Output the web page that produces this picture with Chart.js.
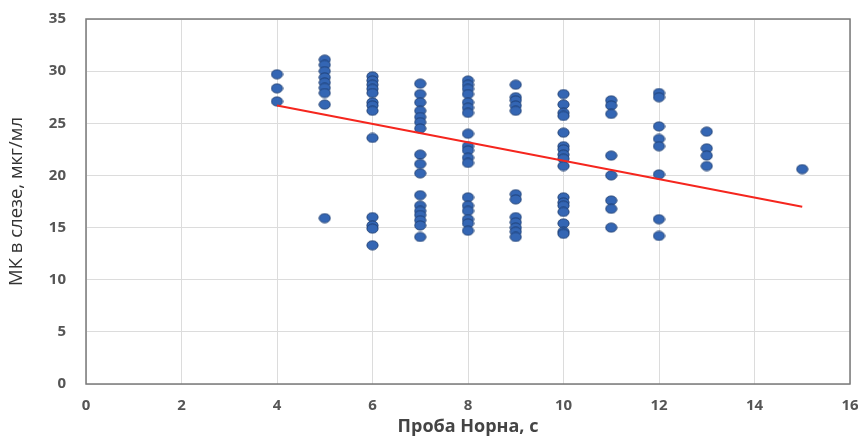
<!DOCTYPE html>
<html>
<head>
<meta charset="utf-8">
<script src="https://cdn.jsdelivr.net/npm/chart.js@4/dist/chart.umd.min.js"></script>
<style>
  html, body { margin: 0; padding: 0; background: #fff; }
  #wrap { width: 858px; height: 438px; }
</style>
</head>
<body>
<div id="wrap"><canvas id="c" width="858" height="438"></canvas></div>
<script>
// Проба Норна (с) -> МК в слезе (мкг/мл)
const hornX = [
  4, 4, 4,
  5, 5, 5, 5, 5, 5, 5, 5, 5,
  6, 6, 6, 6, 6, 6, 6, 6, 6, 6, 6, 6, 6,
  7, 7, 7, 7, 7, 7, 7, 7, 7, 7, 7, 7, 7, 7, 7, 7, 7,
  8, 8, 8, 8, 8, 8, 8, 8, 8, 8, 8, 8, 8, 8, 8, 8, 8, 8,
  9, 9, 9, 9, 9, 9, 9, 9, 9, 9, 9, 9,
  10, 10, 10, 10, 10, 10, 10, 10, 10, 10, 10, 10, 10, 10, 10, 10, 10,
  11, 11, 11, 11, 11, 11, 11, 11,
  12, 12, 12, 12, 12, 12, 12, 12,
  13, 13, 13, 13,
  15
];
const mkY = [
  29.7, 28.35, 27.1,
  31.1, 30.6, 30.0, 29.4, 28.9, 28.4, 27.9, 26.8, 15.9,
  29.5, 29.1, 28.7, 28.3, 27.9, 27.0, 26.7, 26.2, 23.6, 16.0, 15.2, 14.9, 13.3,
  28.8, 27.8, 27.0, 26.2, 25.6, 25.1, 24.5, 22.0, 21.1, 20.2, 18.1, 17.1, 16.6, 16.2, 15.7, 15.2, 14.1,
  29.1, 28.7, 28.3, 27.8, 27.0, 26.5, 26.0, 24.0, 22.8, 22.4, 21.7, 21.2, 17.9, 17.1, 16.6, 15.8, 15.4, 14.7,
  28.7, 27.5, 27.2, 26.7, 26.2, 18.2, 17.7, 16.0, 15.5, 15.0, 14.6, 14.1,
  27.8, 26.8, 26.0, 25.7, 24.1, 22.8, 22.5, 22.0, 21.6, 20.9, 17.9, 17.4, 17.1, 16.5, 15.4, 14.6, 14.4,
  27.2, 26.7, 25.9, 21.9, 20.0, 17.6, 16.8, 15.0,
  27.9, 27.5, 24.7, 23.5, 22.8, 20.1, 15.8, 14.2,
  24.2, 22.6, 21.9, 20.9,
  20.6
];
// linear trend line end points
const trendX = [4, 15];
const trendY = [26.7, 17.0];

const xTicks = [0, 2, 4, 6, 8, 10, 12, 14, 16];
const yTicks = [0, 5, 10, 15, 20, 25, 30, 35];

// ellipse marker like the spreadsheet one
const marker = document.createElement('canvas');
marker.width = 13; marker.height = 11;
(function () {
  const g = marker.getContext('2d');
  g.beginPath();
  g.ellipse(6.5, 5.5, 5.6, 4.6, 0, 0, Math.PI * 2);
  g.fillStyle = '#3466b4';
  g.fill();
  g.lineWidth = 0.9;
  g.strokeStyle = '#1d3c6e';
  g.stroke();
})();

const frame = {
  id: 'frame',
  afterDraw(chart) {
    const a = chart.chartArea, ctx = chart.ctx;
    ctx.save();
    ctx.strokeStyle = '#7a7a7a';
    ctx.lineWidth = 1.5;
    ctx.strokeRect(a.left, a.top, a.right - a.left, a.bottom - a.top);
    ctx.restore();
  }
};

new Chart(document.getElementById('c'), {
  type: 'scatter',
  data: {
    datasets: [
      {
        label: 'МК',
        data: hornX.map((x, i) => ({ x: x, y: mkY[i] })),
        pointStyle: marker,
        order: 1
      },
      {
        label: 'Тренд',
        type: 'line',
        data: trendX.map((x, i) => ({ x: x, y: trendY[i] })),
        borderColor: '#f5261e',
        borderWidth: 2,
        pointRadius: 0,
        fill: false,
        order: 0
      }
    ]
  },
  options: {
    responsive: false,
    animation: false,
    layout: { padding: { top: 19, right: 8, left: 0, bottom: 0 } },
    plugins: {
      legend: { display: false },
      tooltip: { enabled: false }
    },
    scales: {
      x: {
        type: 'linear',
        min: 0, max: 16,
        afterBuildTicks(s) { s.ticks = xTicks.map(v => ({ value: v })); },
        afterFit(s) { s.height = 54; s.paddingLeft = 0; s.paddingRight = 0; },
        grid: { color: '#dcdcdc', lineWidth: 1, drawTicks: false },
        border: { display: false },
        ticks: {
          padding: 13,
          color: '#555555',
          font: { family: 'Open Sans', size: 15, weight: 'bold' }
        },
        title: {
          display: true,
          text: 'Проба Норна, с',
          color: '#444444',
          padding: { top: 0, bottom: 0 },
          font: { family: 'Open Sans', size: 18, weight: 'bold' }
        }
      },
      y: {
        min: 0, max: 35,
        afterBuildTicks(s) { s.ticks = yTicks.map(v => ({ value: v })); },
        afterFit(s) { s.width = 86; s.paddingTop = 0; s.paddingBottom = 0; },
        grid: { color: '#dcdcdc', lineWidth: 1, drawTicks: false },
        border: { display: false },
        ticks: {
          padding: 20,
          color: '#555555',
          font: { family: 'Open Sans', size: 15, weight: 'bold' }
        },
        title: {
          display: true,
          text: 'МК в слезе, мкг/мл',
          color: '#333333',
          padding: { top: 6, bottom: 0 },
          font: { family: 'Open Sans', size: 18.5 }
        }
      }
    }
  },
  plugins: [frame]
});
</script>
</body>
</html>
